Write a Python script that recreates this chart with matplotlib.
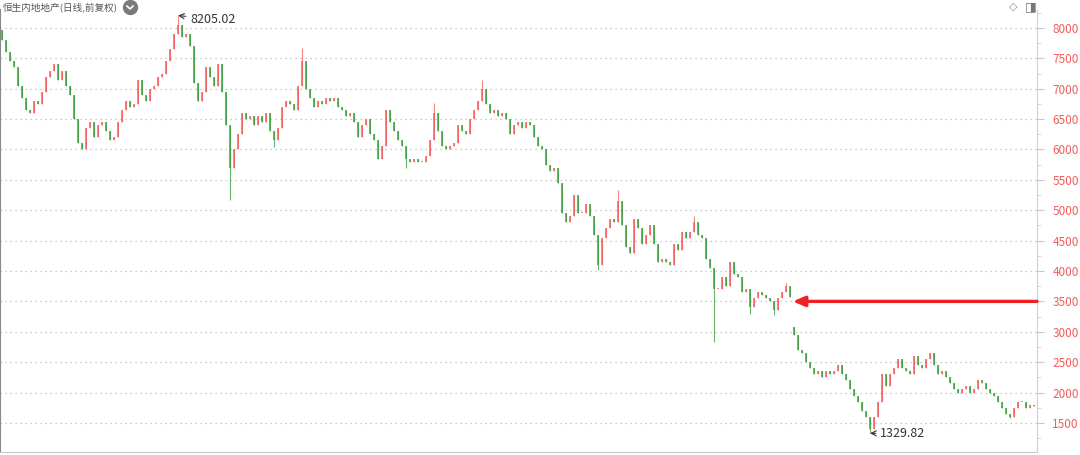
"""Recreate the Hang Seng Mainland Properties daily candlestick chart."""
import matplotlib
matplotlib.use("Agg")
import matplotlib.pyplot as plt
import numpy as np
from matplotlib.lines import Line2D

plt.rcParams["font.family"] = ["Noto Sans CJK SC", "DejaVu Sans"]

TITLE = "恒生内地地产(日线,前复权)"

# closing prices, one candle every few trading days (left to right)
closes = [
    7800, 7600, 7450, 7350, 7050, 6850, 6650, 6600, 6800, 6750,
    6950, 7200, 7300, 7400, 7150, 7300, 7050, 6900, 6500, 6100,
    6000, 6350, 6450, 6200, 6400, 6450, 6300, 6150, 6200, 6450,
    6650, 6800, 6700, 6750, 7150, 6900, 6800, 7000, 7050, 7200,
    7250, 7450, 7650, 7900, 8050, 7850, 7900, 7700, 7100, 6800,
    6950, 7350, 7200, 7050, 7400, 6950, 6400, 5700, 6000, 6250,
    6600, 6500, 6550, 6400, 6550, 6450, 6600, 6300, 6150, 6350,
    6700, 6800, 6750, 6650, 7050, 7450, 7000, 6850, 6700, 6800,
    6750, 6850, 6800, 6850, 6700, 6650, 6550, 6600, 6450, 6200,
    6400, 6500, 6250, 6150, 5850, 6050, 6650, 6450, 6300, 6150,
    6050, 5850, 5800, 5850, 5800, 5800, 5900, 6150, 6600, 6300,
    6050, 6000, 6050, 6100, 6400, 6300, 6250, 6500, 6650, 6800,
    7000, 6750, 6600, 6650, 6550, 6600, 6500, 6250, 6400, 6450,
    6350, 6450, 6400, 6200, 6050, 6000, 5750, 5650, 5700, 5450,
    4950, 4800, 4900, 5250, 4950, 4950, 5100, 4900, 4600, 4100,
    4550, 4700, 4850, 4800, 5150, 4750, 4400, 4300, 4850, 4700,
    4450, 4600, 4750, 4450, 4150, 4200, 4150, 4100, 4450, 4350,
    4650, 4550, 4650, 4800, 4600, 4550, 4200, 4050, 3700, 3700,
    3900, 3750, 4150, 3950, 3900, 3650, 3700, 3400, 3550, 3650,
    3600, 3550, 3500, 3350, 3550, 3650, 3750, 3580, 2950, 2700,
    2650, 2500, 2400, 2300, 2350, 2250, 2350, 2300, 2350, 2450,
    2300, 2200, 2050, 1950, 1850, 1700, 1600, 1400, 1600, 1850,
    2300, 2100, 2300, 2400, 2550, 2400, 2350, 2300, 2600, 2450,
    2400, 2550, 2650, 2450, 2300, 2350, 2250, 2150, 2050, 2000,
    2050, 2100, 2000, 2050, 2200, 2150, 2050, 2000, 1950, 1850,
    1750, 1650, 1600, 1750, 1850, 1850, 1750, 1800, 1770,
]
# opens that do not follow the previous close (first candle, gap down)
gap_opens = {0: 7960, 198: 3080}
# wick extremes
wick_highs = {44: 8205.02, 75: 7670, 108: 6760, 120: 7150, 154: 5330,
              173: 4900, 196: 3800}
wick_lows = {57: 5170, 68: 6040, 101: 5700, 149: 4020, 178: 2830,
             187: 3300, 193: 3280, 217: 1329.82, 252: 1580}

y_ticks = [1500, 2000, 2500, 3000, 3500, 4000, 4500, 5000, 5500,
           6000, 6500, 7000, 7500, 8000]
high_label = "8205.02"
low_label = "1329.82"
marked_level = 3500

UP = "#f25c5c"
DOWN = "#3c9c3c"


def px(x, y):
    """pixel position (from top-left) to figure fraction"""
    return x / 1080, 1 - y / 455


def main():
    fig = plt.figure(figsize=(10.8, 4.55), dpi=100, facecolor="white")
    ax = fig.add_axes([0.0, 3 / 455, 1037 / 1080, 442 / 455])
    ax.set_facecolor("white")

    n = len(closes)
    idx = np.arange(n)
    c = np.array(closes, dtype=float)
    o = np.concatenate([[c[0]], c[:-1]])
    for k, v in gap_opens.items():
        o[k] = v
    hi = np.maximum(o, c)
    lo = np.minimum(o, c)
    for k, v in wick_highs.items():
        hi[k] = v
    for k, v in wick_lows.items():
        lo[k] = v
    up = c >= o
    colors = np.where(up, UP, DOWN)

    ax.vlines(idx, lo, hi, colors=colors, linewidth=0.8, alpha=0.75, zorder=2)
    body_lo = np.minimum(o, c)
    body_h = np.maximum(np.abs(c - o), 15)
    ax.bar(idx, body_h, bottom=body_lo, width=0.5, color=colors,
           alpha=0.75, linewidth=0, zorder=3)

    ax.set_xlim(-0.5, -0.5 + 1037 / 4)
    ax.set_ylim(1021, 8296)

    # dotted grid
    for t in y_ticks:
        ax.axhline(t, color="#b8b8b8", linestyle=(0, (1, 3)), linewidth=0.9, zorder=1)

    # right price axis
    ax.yaxis.tick_right()
    ax.set_yticks(y_ticks)
    ax.set_yticklabels([str(t) for t in y_ticks])
    ax.set_yticks([t + 250 for t in y_ticks[:-1]] + [1250, 8250], minor=True)
    ax.tick_params(axis="y", which="major", direction="out", length=5,
                   color="#c8c8c8", labelcolor=UP, labelsize=8.5, pad=6)
    ax.tick_params(axis="y", which="minor", direction="out", length=3, color="#d0d0d0")
    ax.tick_params(axis="x", bottom=False, labelbottom=False)
    ax.spines["top"].set_visible(False)
    ax.spines["right"].set_color("#d0d0d0")
    ax.spines["bottom"].set_color("#c8c8c8")
    ax.spines["left"].set_color("#888888")
    ax.spines["left"].set_linewidth(1.5)

    # extreme price annotations
    i_hi = int(np.argmax(hi))
    i_lo = int(np.argmin(lo))
    ax.annotate(high_label, xy=(i_hi, hi[i_hi]), xytext=(i_hi + 3, hi[i_hi] - 60),
                fontsize=9, color="#333333", va="center", ha="left",
                arrowprops=dict(arrowstyle="->", color="#333333", lw=0.8,
                                shrinkA=1, shrinkB=0))
    ax.annotate(low_label, xy=(i_lo, lo[i_lo]), xytext=(i_lo + 2.5, lo[i_lo] - 10),
                fontsize=9, color="#333333", va="center", ha="left",
                arrowprops=dict(arrowstyle="->", color="#333333", lw=0.8,
                                shrinkA=1, shrinkB=0))

    # red marker arrow at 3500
    ax.annotate("", xy=(197.7, marked_level), xytext=(258.75, marked_level),
                arrowprops=dict(arrowstyle="-|>,head_length=0.7,head_width=0.3",
                                color="#ee2222", lw=2.4, shrinkA=0, shrinkB=0),
                zorder=5)

    # title and header icons
    tx, ty = px(3, 7)
    fig.text(tx, ty, TITLE, fontsize=6.9, color="#555555", ha="left", va="center")
    cx, cy = px(130, 7)
    fig.add_artist(Line2D([cx], [cy], marker="o", markersize=10,
                          color="#7a7a7a", linestyle="none",
                          transform=fig.transFigure))
    vx = [px(127, 6)[0], px(130, 9)[0], px(133, 6)[0]]
    vy = [px(127, 6)[1], px(130, 9)[1], px(133, 6)[1]]
    fig.add_artist(Line2D(vx, vy, color="white", linewidth=1.2,
                          transform=fig.transFigure))
    dx, dy = px(1013, 7)
    fig.text(dx, dy, "◇", fontsize=8, color="#888888",
             ha="center", va="center", family="DejaVu Sans")
    sx, sy = px(1031, 7)
    fig.text(sx, sy, "◨", fontsize=9, color="#777777",
             ha="center", va="center", family="DejaVu Sans")

    fig.savefig("out.png", dpi=100, facecolor="white")
    plt.close(fig)


if __name__ == "__main__":
    main()
